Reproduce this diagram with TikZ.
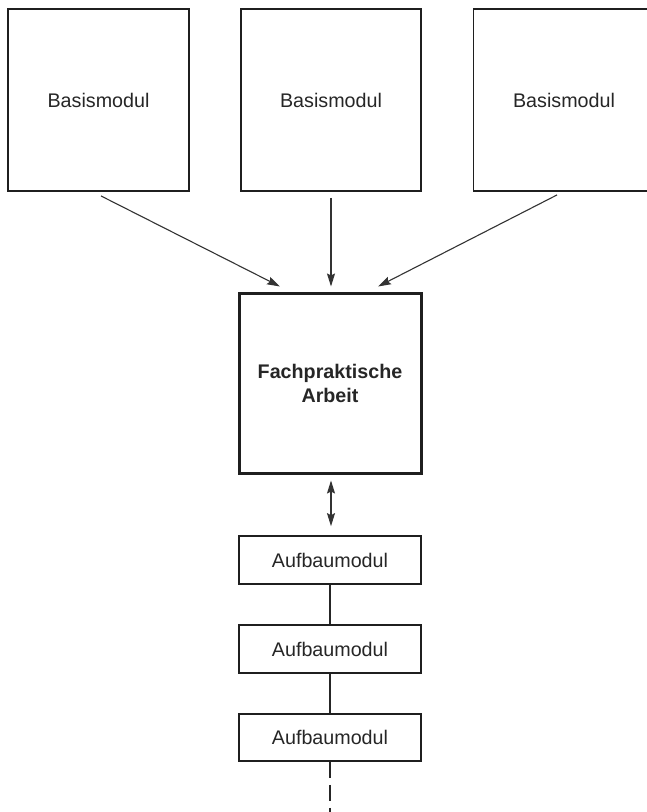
\documentclass[tikz,border=0pt]{standalone}
\usepackage{fontspec}
\setmainfont{Liberation Sans}
\usetikzlibrary{arrows.meta,calc}

\tikzset{
  modbox/.style={draw=black!88, line width=1.9pt, minimum width=181pt, minimum height=182pt,
    inner sep=0pt, font=\fontsize{19.7}{24}\selectfont, text=black!85, align=center},
  mainbox/.style={modbox, line width=3pt, minimum width=182pt, minimum height=180pt,
    font=\fontsize{19.7}{24}\selectfont\bfseries},
  aufbox/.style={modbox, line width=1.7pt, minimum width=182pt, minimum height=48pt},
  arr/.style={draw=black!80, line width=1.1pt, -{Stealth[length=13pt,width=8pt,inset=2pt]}},
  dblarr/.style={draw=black!80, line width=1.1pt,
    {Stealth[length=13pt,width=8pt,inset=2pt]}-{Stealth[length=13pt,width=8pt,inset=2pt]}},
  link/.style={draw=black!85, line width=1.1pt}
}

\begin{document}
\begin{tikzpicture}[x=1pt, y=-1pt]
  \useasboundingbox (0,0) rectangle (646,812);
  \fill[white] (0,0) rectangle (646,812);

  % basic modules
  \node[modbox] (b1) at (98.5,100) {Basismodul};
  \node[modbox, minimum width=180pt] (b2) at (331,100) {Basismodul};
  \node[modbox] (b3) at (564,100) {Basismodul};

  % central practical work
  \node[mainbox] (fa) at (330,383) {Fachpraktische\\Arbeit};

  % advanced modules
  \node[aufbox] (a1) at (330,560) {Aufbaumodul};
  \node[aufbox] (a2) at (330,649) {Aufbaumodul};
  \node[aufbox, minimum height=47pt] (a3) at (330,737.5) {Aufbaumodul};
  \coordinate (cont) at (330,812);

  % arrows into the practical work
  \draw[arr] ([shift={(2.5,4)}]b1.south) -- ([shift={(-50,-5)}]fa.north);
  \draw[arr] ([shift={(0,6)}]b2.south) -- ([shift={(1,-5)}]fa.north);
  \draw[arr] ([shift={(-7,3)}]b3.south) -- ([shift={(48,-5)}]fa.north);

  % link to the advanced modules
  \draw[dblarr] ([shift={(1,6)}]fa.south) -- ([shift={(1,-9)}]a1.north);
  \draw[link] (a1.south) -- (a2.north);
  \draw[link] (a2.south) -- (a3.north);
  \draw[link, dash pattern=on 16pt off 7pt] (a3.south) -- (cont);
\end{tikzpicture}
\end{document}
